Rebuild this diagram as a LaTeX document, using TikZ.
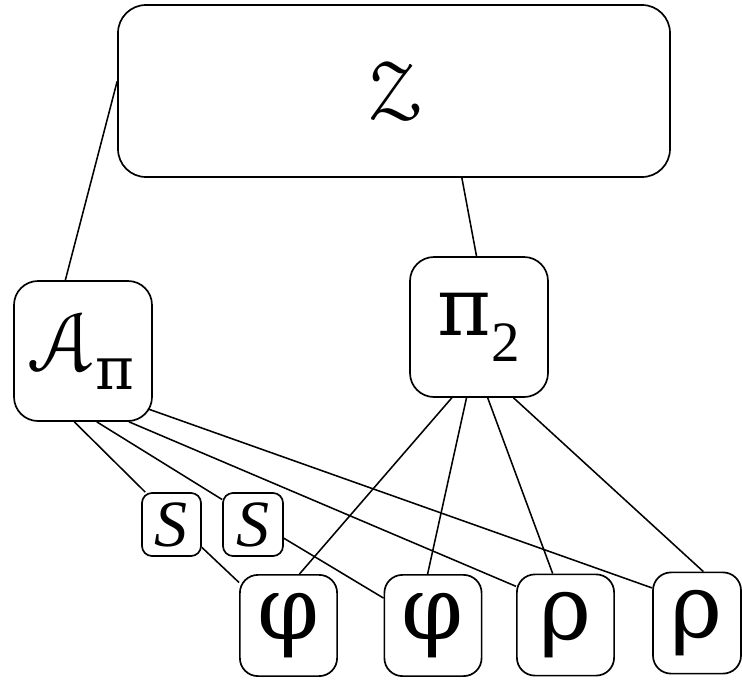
\documentclass[tikz,border=0pt]{standalone}
\usepackage{amsmath}
\usepackage{eucal}
\usepackage{fontspec}
\setmainfont{Liberation Serif}
\newfontfamily\grk{DejaVu Serif}
\begin{document}
\begin{tikzpicture}[
        box/.style={draw=black,rectangle,line width=1.2pt,inner sep=0pt},
        big/.style={box,rounded corners=6mm,minimum width=3.45cm,minimum height=3.5cm,font=\fontsize{58}{58}\selectfont},
        leaf/.style={box,rounded corners=4.5mm,minimum width=2.43cm,minimum height=2.53cm,font=\fontsize{63}{63}\selectfont\grk},
        sml/.style={box,rounded corners=2.5mm,minimum width=1.5cm,minimum height=1.575cm,font=\fontsize{47}{47}\selectfont},
        wire/.style={line width=1.1pt}
      ]
      \useasboundingbox (0,0) rectangle (18.55,-17.025);
      \node[box,rounded corners=7mm,minimum width=13.8cm,minimum height=4.3cm,font=\fontsize{60}{60}\selectfont] (Z) at (9.85,-2.275) {$\mathcal{Z}$};
      \node[big,font=\fontsize{60}{60}\selectfont] (A) at (2.075,-8.775) {$\mathcal{A}_{\text{\grk π}}$};
      \node[big] (P) at (11.975,-8.175) {{\grk π}$_{\text{2}}$};
      \node[sml,minimum width=1.475cm] (S1) at (4.2875,-13.1125) {\textit{S}};
      \node[sml] (S2) at (6.325,-13.1125) {\textit{S}};
      \node[leaf] (F1) at (7.2125,-15.6375) {φ};
      \node[leaf] (F2) at (10.825,-15.6375) {φ};
      \node[leaf] (R1) at (14.1375,-15.625) {ρ};
      \node[leaf,minimum width=2.2cm] (R2) at (17.425,-15.575) {ρ};
      \draw[wire] (Z.178) -- (A.104);
      \draw[wire] (Z.-52) -- (P.92);
      \draw[wire] (A.-97) -- (S1.129);
      \draw[wire] (A.-79) -- (S2.141);
      \draw[wire] (A.-57) -- (R1.142);
      \draw[wire] ([shift={(-0.125,0.325)}]A.south east) -- (R2.142);
      \draw[wire] (S1.-37) -- (F1.139);
      \draw[wire] (S2.-24) -- (F2.151);
      \draw[wire] (P.-111) -- (F1.78);
      \draw[wire] (P.-100) -- (F2.96);
      \draw[wire] (P.-83) -- (R1.104);
      \draw[wire] (P.-64) -- (R2.83);
    \end{tikzpicture}
\end{document}
